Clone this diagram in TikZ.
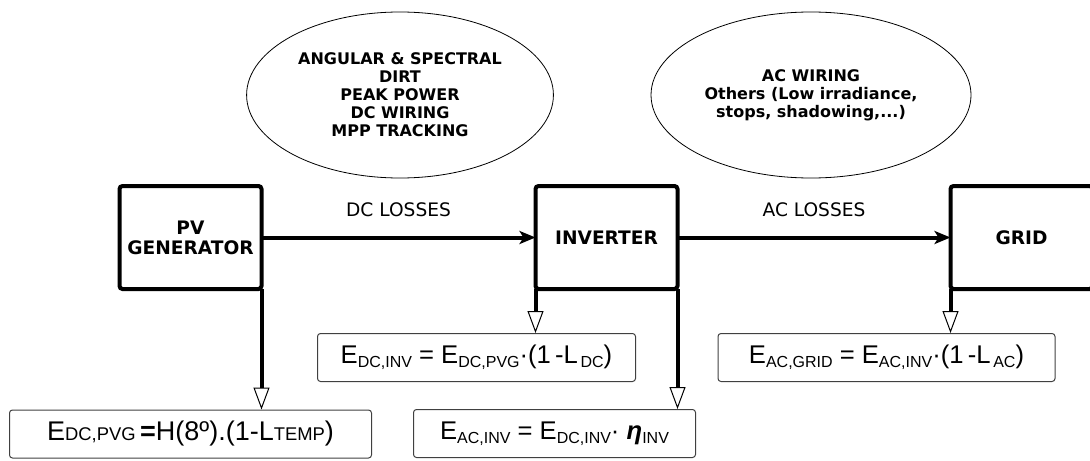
\documentclass[tikz,border=0pt]{standalone}
\usepackage{fontspec}
\setmainfont{DejaVu Sans}
\newfontfamily\arialfont{Liberation Sans}
\usetikzlibrary{positioning,shapes.geometric,arrows.meta}

% lowered and in-line subscripts for the energy labels
\newcommand{\lowsub}[1]{\raisebox{-2pt}{\fontsize{8}{9}\selectfont #1}}
\newcommand{\linesub}[1]{{\fontsize{9.2}{10}\selectfont #1}}

\begin{document}
\begin{tikzpicture}[x=0.5pt,y=-0.5pt,on grid,
   block/.style={draw,line width=2pt,outer sep=0pt,rounded corners=1.5pt,minimum width=71pt,minimum height=51.5pt,align=center,font=\fontsize{9.3}{10}\selectfont\bfseries},
   formula/.style={draw=black!75,line width=0.5pt,rounded corners=1.5pt,minimum height=24pt,font=\arialfont\fontsize{12.8}{14}\selectfont},
   losses/.style={draw,ellipse,line width=0.4pt,minimum width=130pt,minimum height=83pt,align=center,font=\fontsize{8}{9}\selectfont\bfseries},
   flow/.style={line width=2pt,-{Stealth[length=8pt,width=6.5pt,inset=2pt]}},
   drop/.style={line width=2pt,-{Triangle[open,fill=white,length=11pt,width=8pt,line width=0.5pt]}}]
   \useasboundingbox (0,0) rectangle (1090,460);

   \node[block] (pv) at (190.5,237.5) {PV\\GENERATOR};
   \node[block] (inv) [right=208pt of pv] {INVERTER};
   \node[block] (grid) [right=207.5pt of inv] {GRID};

   \node[losses] (dcloss) at (400,95) {ANGULAR \& SPECTRAL\\DIRT\\PEAK POWER\\DC WIRING\\MPP TRACKING};
   \node[losses] (acloss) at (811,95) {AC WIRING\\Others (Low irradiance,\\stops, shadowing,...)};

   \node[formula,minimum width=181pt] (pvg) [below=98.25pt of pv]
      {\fontsize{13.5}{15}\selectfont E\linesub{DC,PVG}\,\textbf{=}H(8º).(1-L\linesub{TEMP})};
   \node[formula,minimum width=159pt] (dcinv) [below left=60pt and 65pt of inv]
      {E\lowsub{DC,INV} = E\lowsub{DC,PVG}·(1\,-L\lowsub{\,DC})};
   \node[formula,minimum width=141pt] (acinv) [below left=98pt and 26pt of inv]
      {E\lowsub{AC,INV} = E\lowsub{DC,INV}· \textbf{\textit{η}}\lowsub{INV}};
   \node[formula,minimum width=168.5pt] (acgrid) [below left=60pt and 67.5pt of grid]
      {E\lowsub{AC,GRID} = E\lowsub{AC,INV}·(1\,-L\lowsub{\,AC})};

   \draw[flow] (pv) -- node[above=6pt,font=\fontsize{9.3}{10}\selectfont] {DC LOSSES} (inv);
   \draw[flow] (inv) -- node[above=6pt,font=\fontsize{9.3}{10}\selectfont] {AC LOSSES} (grid);

   \draw[drop] (pv.south east) -- (pv.south east |- pvg.north);
   \draw[drop] (inv.south west) -- (inv.south west |- dcinv.north);
   \draw[drop] (inv.south east) -- (inv.south east |- acinv.north);
   \draw[drop] (grid.south west) -- (grid.south west |- acgrid.north);
\end{tikzpicture}
\end{document}
